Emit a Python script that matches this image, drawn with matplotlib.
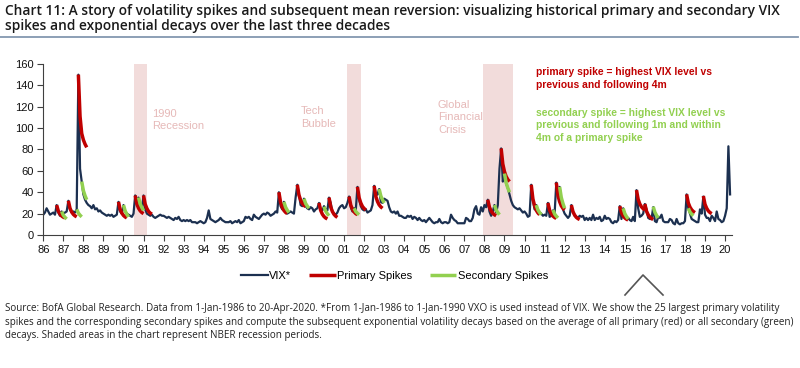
import matplotlib
matplotlib.use('Agg')
import matplotlib.pyplot as plt
from matplotlib.lines import Line2D
import numpy as np

plt.rcParams['font.family'] = ['Liberation Sans', 'DejaVu Sans']

# monthly VIX level (VXO before 1990), Jan-1986 .. Apr-2020
vix = [
    19, 21, 25, 22, 19, 20, 21, 19, 28, 21, 18, 22,   # 86
    20, 21, 22, 32, 24, 21, 22, 21, 24, 150, 62, 50,  # 87
    38, 33, 30, 28, 27, 25, 28, 24, 25, 22, 23, 21,   # 88
    20, 19, 18, 19, 18, 19, 17, 18, 19, 31, 22, 20,   # 89
    28, 22, 20, 19, 18, 17, 20, 37, 30, 35, 26, 24,   # 90
    37, 24, 20, 19, 18, 19, 17, 16, 17, 18, 19, 18,   # 91
    18, 17, 16, 17, 16, 15, 14, 16, 15, 17, 14, 13,   # 92
    14, 13, 14, 13, 14, 12, 12, 12, 11, 12, 13, 12,   # 93
    11, 12, 16, 23, 15, 14, 13, 12, 13, 14, 16, 14,   # 94
    13, 12, 12, 12, 13, 11, 12, 13, 12, 14, 11, 12,   # 95
    13, 17, 16, 17, 15, 14, 19, 17, 16, 15, 17, 19,   # 96
    20, 19, 21, 20, 18, 19, 20, 22, 21, 40, 27, 24,   # 97
    31, 22, 20, 21, 22, 21, 20, 35, 47, 38, 28, 27,   # 98
    34, 27, 25, 24, 26, 25, 22, 24, 25, 30, 24, 23,   # 99
    27, 24, 23, 35, 30, 22, 20, 19, 21, 25, 27, 28,   # 00
    25, 26, 30, 36, 26, 22, 25, 23, 45, 33, 27, 24,   # 01
    23, 24, 21, 22, 23, 28, 46, 37, 38, 43, 31, 30,   # 02
    34, 33, 32, 26, 22, 21, 22, 20, 22, 18, 18, 17,   # 03
    16, 16, 18, 17, 18, 15, 17, 16, 14, 16, 14, 13,   # 04
    14, 12, 14, 16, 14, 12, 11, 12, 12, 15, 12, 11,   # 05
    12, 12, 11, 12, 19, 16, 14, 13, 11, 11, 11, 11,   # 06
    11, 16, 15, 13, 13, 16, 24, 27, 20, 19, 26, 22,   # 07
    28, 26, 33, 22, 18, 22, 28, 21, 28, 62, 81, 50,   # 08
    57, 48, 44, 38, 32, 28, 26, 25, 24, 25, 23, 21,   # 09
    22, 20, 17, 18, 47, 33, 24, 28, 22, 21, 20, 18,   # 10
    19, 18, 30, 17, 18, 23, 20, 49, 41, 45, 32, 24,   # 11
    20, 18, 16, 18, 28, 22, 18, 17, 16, 18, 17, 18,   # 12
    14, 16, 14, 16, 14, 19, 14, 16, 15, 17, 13, 14,   # 13
    18, 15, 16, 15, 12, 11, 13, 12, 14, 27, 15, 25,   # 14
    20, 16, 16, 14, 13, 17, 13, 42, 25, 17, 18, 20,   # 15
    29, 24, 16, 15, 15, 26, 13, 12, 17, 16, 19, 13,   # 16
    12, 12, 12, 15, 14, 11, 10, 15, 11, 10, 11, 11,   # 17
    13, 38, 25, 20, 15, 14, 13, 12, 12, 24, 20, 36,   # 18
    19, 16, 16, 13, 18, 16, 13, 22, 15, 14, 12, 13,   # 19
    18, 25, 83, 38,                                   # 20
]

# primary spikes: start month and decay path (monthly steps)
primary_dates = ['1986-09', '1987-04', '1987-10', '1989-10', '1990-08', '1991-01',
                 '1997-10', '1998-09', '1999-10', '2000-04', '2001-04', '2001-09',
                 '2002-07', '2008-03', '2008-11', '2010-05', '2011-03', '2011-08',
                 '2012-05', '2014-10', '2015-08', '2016-01', '2018-02', '2018-12']
primary_decay = [
    [28, 22.4, 19.6, 17.8, 16.7, 16],
    [32, 25, 21.5, 19.3, 17.9, 17],
    [150, 111, 95, 89, 85, 82],
    [31, 24, 20.5, 18.3, 16.9, 16],
    [37, 29, 25.1, 22.6, 21, 20],
    [37, 28.8, 24.8, 22.1, 20.5, 19.5],
    [40, 30.6, 26, 23, 21.2, 20],
    [47, 37.4, 32.7, 29.6, 27.7, 26.5],
    [30, 23, 19.5, 17.3, 15.9, 15],
    [35, 26.3, 22, 19.3, 17.6, 16.5],
    [36, 28, 24.1, 21.6, 20, 19],
    [45, 34.9, 30, 26.7, 24.8, 23.5],
    [46, 36.1, 31.3, 28.2, 26.3, 25],
    [33, 26, 22.5, 20.3, 18.9, 18],
    [81, 66.4, 59.3, 54.7, 51.9, 50],
    [47, 33.8, 27.4, 23.2, 20.7, 19],
    [30, 23.2, 19.9, 17.7, 16.4, 15.5],
    [49, 37, 31.2, 27.3, 25, 23.5],
    [28, 21.7, 18.6, 16.5, 15.3, 14.5],
    [27, 20.9, 17.9, 16, 14.8, 14],
    [42, 33.3, 29, 26.3, 24.6, 23.5],
    [29, 22.2, 18.9, 16.7, 15.4, 14.5],
    [38, 30, 26.1, 23.6, 22, 21],
    [36.5, 28.7, 25, 22.5, 21, 20],
]

# secondary spikes
secondary_dates = ['1986-12', '1987-09', '1987-12', '1990-01', '1990-10', '1998-01',
                   '1999-01', '2000-01', '2001-07', '2002-10', '2008-07', '2009-01',
                   '2010-08', '2011-06', '2011-10', '2014-12', '2016-06', '2018-03']
secondary_decay = [
    [22, 18.5, 16.5, 15],
    [24, 20.5, 18.5, 17],
    [50, 41.5, 36.7, 33],
    [28, 22.5, 19.4, 17],
    [35, 29, 25.6, 23],
    [31, 26, 23.2, 21],
    [34, 29.5, 27, 25],
    [26.5, 22.3, 19.9, 18],
    [25, 22, 20.3, 19],
    [43, 36.5, 32.9, 30],
    [28, 23.5, 21, 19],
    [57.5, 48.8, 43.9, 40],
    [28, 23.5, 21, 19],
    [23.4, 19.7, 17.6, 16],
    [45, 35, 29.4, 25],
    [25, 20, 17.2, 15],
    [26.5, 21.3, 18.3, 16],
    [25, 21.5, 19.5, 18],
]

# NBER recessions
recessions = [(1990.5, 1991.17), (2001.17, 2001.83), (2007.92, 2009.42)]
recession_names = ['1990\nRecession', 'Tech\nBubble', 'Global\nFinancial\nCrisis']
recession_label_pos = [(1991.45, 118), (1998.84, 120.5), (2005.68, 126.5)]

year_ticks = list(range(1986, 2021))
year_labels = ['%02d' % (y % 100) for y in year_ticks]


def to_year(s):
    y, m = s.split('-')
    return int(y) + (int(m) - 1) / 12.0


navy = '#1c3050'
red = '#c00000'
green = '#92d050'
pink = '#f2dcdb'

fig = plt.figure(figsize=(8, 3.68), dpi=100)
ax = fig.add_axes([0.0541, 0.3614, 0.861, 0.4647])

for (a, b) in recessions:
    ax.axvspan(a, b, color=pink, lw=0, zorder=0)
for name, (x, y) in zip(recession_names, recession_label_pos):
    ax.text(x, y, name, color='#e6b9b8', fontsize=8, va='top', ha='left', linespacing=1.3)

t = 1986 + np.arange(len(vix)) / 12.0
ax.plot(t, vix, color=navy, lw=1.6, label='VIX*', zorder=2)

for i, (d, vals) in enumerate(zip(primary_dates, primary_decay)):
    x = to_year(d) + np.arange(len(vals)) / 12.0
    ax.plot(x, vals, color=red, lw=2.5, solid_capstyle='butt', zorder=3,
            label='Primary Spikes' if i == 0 else None)
for i, (d, vals) in enumerate(zip(secondary_dates, secondary_decay)):
    x = to_year(d) + np.arange(len(vals)) / 12.0
    ax.plot(x, vals, color=green, lw=2.5, solid_capstyle='butt', zorder=4,
            label='Secondary Spikes' if i == 0 else None)

ax.text(2010.59, 157, 'primary spike = highest VIX level vs\nprevious and following 4m',
        color=red, fontsize=7.35, fontweight='bold', va='top', ha='left', linespacing=1.3)
ax.text(2010.59, 119, 'secondary spike = highest VIX level vs\nprevious and following 1m and within\n4m of a primary spike',
        color=green, fontsize=7.35, fontweight='bold', va='top', ha='left', linespacing=1.3)

ax.set_xlim(1986, 2020.35)
ax.set_ylim(0, 160)
ax.set_yticks(range(0, 161, 20))
ax.set_xticks(year_ticks)
ax.set_xticklabels(year_labels)
ax.tick_params(labelsize=8, length=4, width=0.8, color='#404040', labelcolor='#111111', pad=3)
for s in ['top', 'right']:
    ax.spines[s].set_visible(False)
for s in ['left', 'bottom']:
    ax.spines[s].set_color('#404040')
    ax.spines[s].set_linewidth(0.8)

ax.legend(loc='center', bbox_to_anchor=(0.51, -0.24), ncol=3, frameon=False, fontsize=8,
          handlelength=2.4, handletextpad=0.1, columnspacing=1.6)

fig.text(0.006, 0.989,
         'Chart 11: A story of volatility spikes and subsequent mean reversion: visualizing historical primary and secondary VIX\n'
         'spikes and exponential decays over the last three decades',
         family=['Open Sans', 'DejaVu Sans'], fontsize=9.9, fontweight='semibold', color='#1a1a1a',
         va='top', ha='left', linespacing=1.1)
fig.add_artist(Line2D([0, 0.997], [0.9008, 0.9008], color='#8497b0', lw=1.3))

fig.text(0.006, 0.177,
         'Source: BofA Global Research. Data from 1-Jan-1986 to 20-Apr-2020. *From 1-Jan-1986 to 1-Jan-1990 VXO is used instead of VIX. We show the 25 largest primary volatility\n'
         'spikes and the corresponding secondary spikes and compute the subsequent exponential volatility decays based on the average of all primary (red) or all secondary (green)\n'
         'decays. Shaded areas in the chart represent NBER recession periods.',
         family=['Open Sans', 'DejaVu Sans'], fontsize=7.1, color='#222222',
         va='top', ha='left', linespacing=1.35)

# scroll-up chevron in the screenshot
fig.add_artist(Line2D([625 / 800, 643 / 800, 663 / 800],
                      [1 - 295 / 368, 1 - 275 / 368, 1 - 295 / 368], color='#555555', lw=1.2))

fig.savefig('out.png', dpi=100)
